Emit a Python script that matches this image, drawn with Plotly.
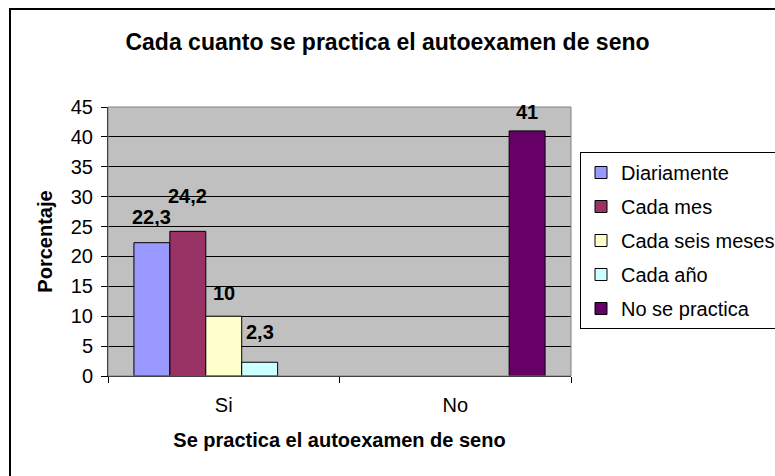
import plotly.graph_objects as go

# data
categories = ["Si", "No"]
series_names = ["Diariamente", "Cada mes", "Cada seis meses", "Cada año", "No se practica"]
diariamente = [22.3, None]
cada_mes = [24.2, None]
cada_seis_meses = [10, None]
cada_anio = [2.3, None]
no_se_practica = [None, 41]
y_tick_values = [0, 5, 10, 15, 20, 25, 30, 35, 40, 45]

series_values = [diariamente, cada_mes, cada_seis_meses, cada_anio, no_se_practica]
series_colors = ["#9999FF", "#993366", "#FFFFCC", "#CCFFFF", "#660066"]
# how far (px) each series' value label sits above its bar, as in the source chart
label_lift = [26, 35, 23, 30, 19]

FONT = "Arial, Liberation Sans, sans-serif"
W, H = 775, 476
ML, MR, MT, MB = 108, 204, 107, 100
BARGAP = 0.224


def label(v):
    return f"{v:g}".replace(".", ",")


fig = go.Figure()

n = len(series_names)
bar_w = (1 - BARGAP) / n
annotations = []
for j, (name, vals, color) in enumerate(zip(series_names, series_values, series_colors)):
    fig.add_trace(go.Bar(
        x=categories,
        y=vals,
        name=name,
        legendgroup=name,
        marker=dict(color=color, line=dict(color="black", width=1)),
    ))
    # value labels above the bars (Excel style)
    for i, v in enumerate(vals):
        if v is None:
            continue
        annotations.append(dict(
            x=i + (j - (n - 1) / 2) * bar_w, y=v, xref="x", yref="y",
            text=f"<b>{label(v)}</b>", showarrow=False,
            yshift=label_lift[j], yanchor="middle",
            font=dict(size=20, color="black"),
        ))

plot_w = W - ML - MR
plot_h = H - MT - MB

fig.update_layout(
    width=W, height=H,
    margin=dict(l=ML, r=MR, t=MT, b=MB, autoexpand=False),
    paper_bgcolor="white",
    plot_bgcolor="#C0C0C0",
    font=dict(family=FONT, size=20, color="black"),
    barmode="group",
    bargap=BARGAP,
    bargroupgap=0,
    title=dict(text="<b>Cada cuanto se practica el autoexamen de seno</b>",
               font=dict(size=23), x=0.5, xref="container", xanchor="center",
               y=1 - 42 / H, yanchor="middle"),
    xaxis=dict(
        showline=True, linecolor="black", linewidth=1,
        ticks="outside", ticklen=6, tickcolor="black", tickson="boundaries",
        ticklabelstandoff=11,
        showgrid=False,
        title=dict(text="<b>Se practica el autoexamen de seno</b>", font=dict(size=20), standoff=17),
    ),
    yaxis=dict(
        range=[0, 45], tickvals=y_tick_values,
        showline=True, linecolor="black", linewidth=1,
        ticks="outside", ticklen=6, tickcolor="black",
        ticklabelstandoff=4,
        showgrid=True, gridcolor="black", gridwidth=1,
        zeroline=False,
        title=dict(text="<b>Porcentaje</b>", font=dict(size=20), standoff=12),
    ),
    legend=dict(
        x=1 + (580 - (W - MR)) / plot_w, xanchor="left",
        y=1 - (152 - MT) / plot_h, yanchor="top",
        bgcolor="white", bordercolor="black", borderwidth=1,
        font=dict(size=20),
        traceorder="grouped", tracegroupgap=5,
    ),
    annotations=annotations,
    shapes=[
        # grey top/right frame of the plot area
        dict(type="rect", xref="paper", yref="paper", x0=0, x1=1, y0=0, y1=1,
             line=dict(color="#808080", width=1), layer="above"),
        # outer chart border
        dict(type="rect", xref="paper", yref="paper",
             x0=(10 - ML) / plot_w, x1=2, y0=-2, y1=1 + (MT - 9) / plot_h,
             line=dict(color="black", width=2)),
    ],
)

fig.write_html("out.html", config={"displayModeBar": False},
               post_script="document.body.style.margin='0';")
